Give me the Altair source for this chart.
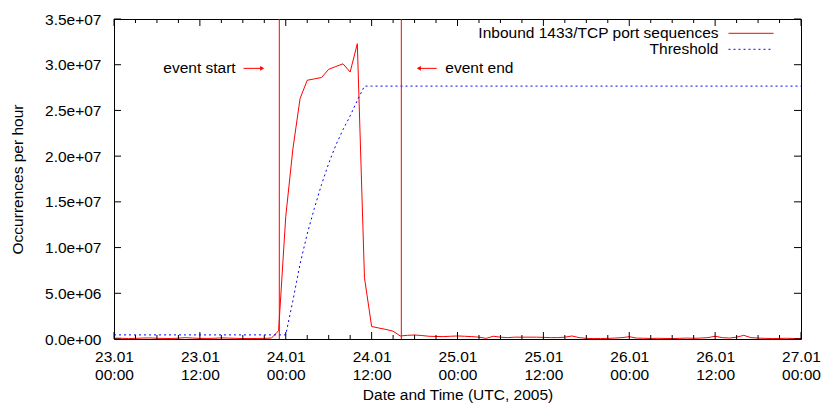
import json
import altair as alt
import pandas as pd

# ---------------- data ----------------
hours = list(range(0, 97))

# Inbound 1433/TCP port sequences (millions per hour)
inbound_m = [
    0.10, 0.08, 0.05, 0.07, 0.10, 0.12, 0.08, 0.06, 0.05, 0.09, 0.15, 0.10,
    0.07, 0.06, 0.08, 0.12, 0.10, 0.07, 0.05, 0.06, 0.05, 0.07, 0.10, 0.90,
    13.4, 20.8, 26.3, 28.3, 28.45, 28.6, 29.5, 29.8, 30.1, 29.2, 32.3, 6.7,
    1.37, 1.20, 1.05, 0.85, 0.33, 0.40, 0.44, 0.38, 0.30, 0.28, 0.26, 0.30,
    0.33, 0.30, 0.26, 0.20, 0.07, 0.30, 0.20, 0.15, 0.20, 0.20, 0.20, 0.20,
    0.18, 0.15, 0.15, 0.20, 0.33, 0.15, 0.07, 0.05, 0.05, 0.07, 0.10, 0.15,
    0.25, 0.10, 0.08, 0.06, 0.08, 0.06, 0.05, 0.07, 0.10, 0.08, 0.10, 0.15,
    0.30, 0.15, 0.10, 0.20, 0.40, 0.15, 0.10, 0.07, 0.05, 0.06, 0.08, 0.05,
    0.06,
]

# Threshold (millions per hour)
threshold_m = [0.45] * 25 + [
    4.2, 8.2, 11.5, 14.3, 16.9, 19.2, 21.2, 22.9, 24.4, 26.1,
] + [27.66] * 62

series_names = ["Inbound 1433/TCP port sequences", "Threshold"]

x_tick_hours = [0, 12, 24, 36, 48, 60, 72, 84, 96]
x_tick_days = ["23.01", "23.01", "24.01", "24.01", "25.01", "25.01", "26.01", "26.01", "27.01"]
x_tick_times = ["00:00", "12:00", "00:00", "12:00", "00:00", "12:00", "00:00", "12:00", "00:00"]
x_minor_hours = [h for h in range(0, 97, 3) if h % 12 != 0]
y_ticks = [0, 5e6, 1e7, 1.5e7, 2e7, 2.5e7, 3e7, 3.5e7]

event_hours = [23.1, 40.15]
event_labels = ["event start", "event end"]
event_label_hours = [17.0, 46.3]
event_label_value = 29.6e6
arrow_from = [18.1, 45.1]
arrow_to = [20.7, 42.6]

# ---------------- frames ----------------
df_in = pd.DataFrame({"hour": hours, "value": [v * 1e6 for v in inbound_m]})
df_th = pd.DataFrame({"hour": hours, "value": [v * 1e6 for v in threshold_m]})
df_major = pd.DataFrame({"hour": x_tick_hours})
df_minor = pd.DataFrame({"hour": x_minor_hours})
df_yt = pd.DataFrame({"value": y_ticks})
df_ev = pd.DataFrame({"hour": event_hours})
df_evtxt = pd.DataFrame({"hour": event_label_hours, "value": [event_label_value] * 2,
                         "label": event_labels})
df_arrow = pd.DataFrame({"hour": arrow_from, "x2": arrow_to, "value": [event_label_value] * 2})
df_head = pd.DataFrame({"hour": arrow_to, "value": [event_label_value] * 2,
                        "shape": ["triangle-right", "triangle-left"]})
df_one = pd.DataFrame({"n": [0]})

W, H = 687, 320
FONT = "Liberation Sans"
FS = 15.5

xscale = alt.Scale(domain=[0, 96], nice=False, zero=False)
yscale = alt.Scale(domain=[0, 3.5e7], nice=False)

label_expr_x = "[{d}[datum.value/12], {t}[datum.value/12]]".format(
    d=json.dumps(x_tick_days), t=json.dumps(x_tick_times))

x_axis = alt.Axis(values=x_tick_hours, labelExpr=label_expr_x, ticks=False, domain=False,
                  grid=False, title="Date and Time (UTC, 2005)", labelPadding=10,
                  labelLineHeight=18, titlePadding=5, labelFlush=False)
y_axis = alt.Axis(values=y_ticks, labelExpr="replace(format(datum.value, '.1e'), 'e+', 'e+0')",
                  ticks=False, domain=False, grid=False, title="Occurrences per hour",
                  labelPadding=13, titlePadding=19)

X = lambda f="hour:Q": alt.X(f, scale=xscale, axis=x_axis, title="Date and Time (UTC, 2005)")
Y = lambda f="value:Q": alt.Y(f, scale=yscale, axis=y_axis, title="Occurrences per hour")

inbound = alt.Chart(df_in).mark_line(color="#ff0000", strokeWidth=1).encode(x=X(), y=Y())
threshold = alt.Chart(df_th).mark_line(color="#0000ff", strokeWidth=1, strokeDash=[2, 3]).encode(
    x=X(), y=Y())

def xticks(df, length):
    bottom = alt.Chart(df).mark_rule(color="black", strokeWidth=1).encode(
        x=X(), y=alt.value(H), y2=alt.value(H - length))
    top = alt.Chart(df).mark_rule(color="black", strokeWidth=1).encode(
        x=X(), y=alt.value(0), y2=alt.value(length))
    return [bottom, top]

yt_left = alt.Chart(df_yt).mark_rule(color="black", strokeWidth=1).encode(
    y=Y(), x=alt.value(0), x2=alt.value(7))
yt_right = alt.Chart(df_yt).mark_rule(color="black", strokeWidth=1).encode(
    y=Y(), x=alt.value(W), x2=alt.value(W - 7))

ev_lines = alt.Chart(df_ev).mark_rule(color="#ff0000", strokeWidth=1).encode(
    x=X(), y=alt.value(0), y2=alt.value(H))

ev_text_start = alt.Chart(df_evtxt.iloc[[0]]).mark_text(
    font=FONT, fontSize=FS, color="black", baseline="middle", align="right").encode(
    x=X(), y=Y(), text="label:N")
ev_text_end = alt.Chart(df_evtxt.iloc[[1]]).mark_text(
    font=FONT, fontSize=FS, color="black", baseline="middle", align="left").encode(
    x=X(), y=Y(), text="label:N")

arrow_line = alt.Chart(df_arrow).mark_rule(color="#ff0000", strokeWidth=1).encode(
    x=X(), x2="x2:Q", y=Y())
arrow_head = alt.Chart(df_head).mark_point(filled=True, color="#ff0000", size=22, opacity=1).encode(
    x=X(), y=Y(), shape=alt.Shape("shape:N", scale=None, legend=None))

# legend (manual, gnuplot style: label then sample on the right)
leg_text1 = alt.Chart(df_one).mark_text(font=FONT, fontSize=FS, align="right", baseline="middle",
                                        color="black", text=series_names[0]).encode(
    x=alt.value(604.5), y=alt.value(14.3))
leg_text2 = alt.Chart(df_one).mark_text(font=FONT, fontSize=FS, align="right", baseline="middle",
                                        color="black", text=series_names[1]).encode(
    x=alt.value(604.5), y=alt.value(29.8))
leg_line1 = alt.Chart(df_one).mark_rule(color="#ff0000", strokeWidth=1).encode(
    x=alt.value(614.5), x2=alt.value(659.5), y=alt.value(14.3))
leg_line2 = alt.Chart(df_one).mark_rule(color="#0000ff", strokeWidth=1, strokeDash=[2, 3]).encode(
    x=alt.value(614.5), x2=alt.value(659.5), y=alt.value(30.3))

layers = [inbound, threshold] + xticks(df_major, 7) + xticks(df_minor, 4) + [
    yt_left, yt_right, ev_lines, ev_text_start, ev_text_end, arrow_line, arrow_head,
    leg_text1, leg_text2, leg_line1, leg_line2]

chart = alt.layer(*layers).properties(
    width=W, height=H,
    autosize=alt.AutoSizeParams(type="none"),
    padding={"left": 114, "top": 19, "right": 20, "bottom": 64},
    background="white",
).configure(font=FONT).configure_view(
    stroke="black", strokeWidth=1
).configure_axis(
    labelFont=FONT, labelFontSize=FS, labelColor="black",
    titleFont=FONT, titleFontSize=FS, titleColor="black", titleFontWeight="normal",
)

chart.save("out.html", embed_options={"renderer": "svg", "actions": False})
